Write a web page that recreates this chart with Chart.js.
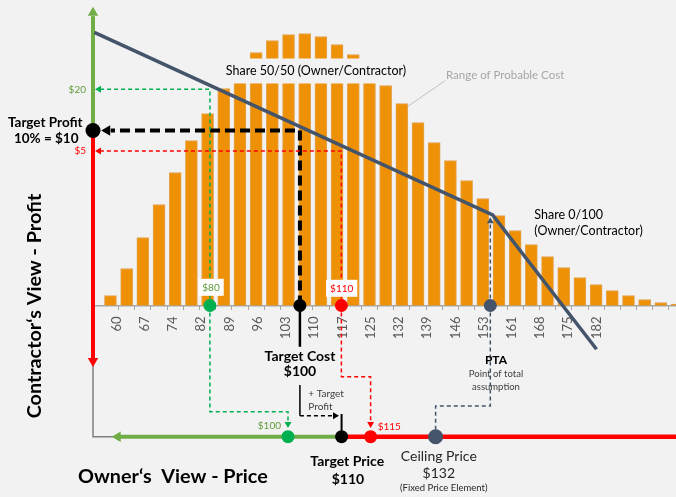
<!DOCTYPE html>
<html>
<head>
<meta charset="utf-8">
<script src="https://cdn.jsdelivr.net/npm/chart.js@4.4.0/dist/chart.umd.min.js"></script>
<style>
  html, body { margin: 0; padding: 0; background: #F2F2F2; }
  canvas { display: block; background: #F2F2F2; }
</style>
</head>
<body>
<canvas id="costChart" width="676" height="497"></canvas>
<script>
// Histogram "Range of Probable Cost" (bin centres on the cost axis)
const binStart = 58.44;
const binWidth = 4.115;
const binCounts = [10, 37, 68, 101, 133, 165, 192, 217, 237, 253, 265, 271, 272, 269, 261, 251, 236, 220,
  202, 183, 163, 145, 125, 107, 90, 75, 61, 49, 38, 28, 21, 15, 10, 6, 3, 1.5];

// Cost axis tick labels
const tickLabels = ['60', '67', '74', '82', '89', '96', '103', '110', '117', '125', '132', '139', '146', '153', '161', '168', '175', '182'];
const tickFirst = 60;
const tickLast = 182;

// Axis levels on the profit scale
const costAxisLevel = -32.56;
const priceAxisLevel = -64.45;
const leftAxis = 54;

// Share line (profit vs cost)
const shareLine = [{ x: 54.33, y: 33.87 }, { x: 155.58, y: -10.55 }, { x: 182.0, y: -43.2 }];

// Key points on the cost axis: $80, target cost, $110, PTA
const costPoints = [83.72, 106.6, 117.14, 155.0];
// Key points on the price axis: $100, target price, $115, ceiling price
const pricePoints = [103.57, 117.19, 124.57, 141.09];
// Profit levels read on the left axis
const profitLevels = { green: 20, target: 10, red: 5 };

const GREEN = '#70AD47';
const MARK_GREEN = '#00B050';
const RED = '#FF0000';
const SLATE = '#44546A';
const FONT = 'Lato, "Open Sans", sans-serif';

function path(points, color, width, dash, order) {
  return {
    type: 'line',
    data: points,
    xAxisID: 'x',
    yAxisID: 'yProfit',
    borderColor: color,
    borderWidth: width,
    borderDash: dash || [],
    borderCapStyle: 'butt',
    pointRadius: 0,
    fill: false,
    tension: 0,
    clip: false,
    order: order || 5,
  };
}

function dots(points, colors, radius, yAxisID) {
  return {
    type: 'scatter',
    data: points,
    xAxisID: 'x',
    yAxisID: yAxisID,
    pointRadius: radius,
    pointBackgroundColor: colors,
    pointBorderWidth: 0,
    clip: false,
    order: 1,
  };
}

// Arrow heads: position, rotation (deg, 0 = up), size, colour
const arrowTips = [
  { x: leftAxis, y: 38.63 }, { x: leftAxis, y: -46.05 }, { x: 60.28, y: priceAxisLevel },
  { x: 55.53, y: profitLevels.green }, { x: 55.53, y: profitLevels.red }, { x: 57.61, y: profitLevels.target },
  { x: pricePoints[0], y: -61.37 }, { x: pricePoints[2], y: -61.37 }, { x: 115.52, y: -59.35 },
  { x: costPoints[3], y: -12.06 },
];
const arrowRotation = [0, 180, 270, 270, 270, 270, 180, 180, 90, 0];
const arrowSize = [6, 6, 6, 4, 4, 6, 4, 4, 4, 4];
const arrowColor = [GREEN, RED, GREEN, MARK_GREEN, RED, '#000', MARK_GREEN, RED, '#000', SLATE];

const datasets = [
  dots(costPoints.map((x) => ({ x, y: 0 })), [MARK_GREEN, '#000', RED, SLATE], 6.5, 'yBar'),
  dots(pricePoints.map((x) => ({ x, y: priceAxisLevel })), [MARK_GREEN, '#000', RED, SLATE], [6.5, 6.5, 6.5, 7.5], 'yProfit'),
  dots([{ x: leftAxis, y: profitLevels.target }], ['#000'], 7.5, 'yProfit'),
  {
    type: 'scatter',
    data: arrowTips,
    xAxisID: 'x',
    yAxisID: 'yProfit',
    pointStyle: 'triangle',
    pointRadius: arrowSize,
    rotation: arrowRotation,
    pointBackgroundColor: arrowColor,
    pointBorderWidth: 0,
    clip: false,
    order: 2,
  },
  // left axes and price axis
  path([{ x: leftAxis, y: profitLevels.target }, { x: leftAxis, y: 37.8 }], GREEN, 4),
  path([{ x: leftAxis, y: profitLevels.target }, { x: leftAxis, y: -45.3 }], RED, 4),
  path([{ x: leftAxis, y: -46 }, { x: leftAxis, y: priceAxisLevel }, { x: 60, y: priceAxisLevel }], '#7F7F7F', 1.5),
  path([{ x: 60.28, y: priceAxisLevel }, { x: pricePoints[1], y: priceAxisLevel }], GREEN, 4),
  path([{ x: pricePoints[1], y: priceAxisLevel }, { x: 202.2, y: priceAxisLevel }], RED, 4.5),
  // share line
  path(shareLine, SLATE, 3.5, null, 3),
  // callout for the histogram
  path([{ x: 133.89, y: 15.78 }, { x: 143.5, y: 22.1 }], '#BFBFBF', 1),
  // green $80 projections
  path([{ x: costPoints[0], y: costAxisLevel }, { x: costPoints[0], y: profitLevels.green }, { x: 56, y: profitLevels.green }], MARK_GREEN, 1.5, [4, 3], 4),
  path([{ x: costPoints[0], y: costAxisLevel }, { x: costPoints[0], y: -58.37 }, { x: pricePoints[0], y: -58.37 }, { x: pricePoints[0], y: -61 }], MARK_GREEN, 1.5, [4, 3], 4),
  // red $110 projections
  path([{ x: costPoints[2], y: costAxisLevel }, { x: costPoints[2], y: profitLevels.red }, { x: 56, y: profitLevels.red }], RED, 1.5, [4, 3], 4),
  path([{ x: costPoints[2], y: costAxisLevel }, { x: costPoints[2], y: -49.87 }, { x: pricePoints[2], y: -49.87 }, { x: pricePoints[2], y: -61 }], RED, 1.5, [4, 3], 4),
  // target cost -> target profit
  path([{ x: costPoints[1], y: costAxisLevel }, { x: costPoints[1], y: profitLevels.target }, { x: 58.5, y: profitLevels.target }], '#000', 4, [10, 5], 4),
  path([{ x: costPoints[1], y: costAxisLevel }, { x: costPoints[1], y: -42.57 }], '#000', 2.5, null, 4),
  // + target profit
  path([{ x: costPoints[1], y: -51.88 }, { x: costPoints[1], y: -59.35 }], '#000', 1.5, null, 4),
  path([{ x: costPoints[1], y: -59.35 }, { x: 115, y: -59.35 }], '#000', 1.5, [4, 3], 4),
  path([{ x: pricePoints[1], y: -58.94 }, { x: pricePoints[1], y: priceAxisLevel }], '#000', 2, null, 4),
  // PTA
  path([{ x: costPoints[3], y: costAxisLevel }, { x: costPoints[3], y: -12.6 }], SLATE, 1.5, [4, 3], 4),
  path([{ x: costPoints[3], y: costAxisLevel }, { x: costPoints[3], y: -56.99 }, { x: pricePoints[3], y: -56.99 }, { x: pricePoints[3], y: priceAxisLevel }], SLATE, 1.5, [4, 3], 4),
  {
    type: 'bar',
    label: 'Range of Probable Cost',
    data: binCounts.map((v, i) => ({ x: binStart + i * binWidth, y: v })),
    xAxisID: 'x',
    yAxisID: 'yBar',
    backgroundColor: '#EF9106',
    borderColor: '#E2A552',
    borderWidth: 1,
    barThickness: 12,
    order: 10,
  },
];

// Text annotations, anchored on the cost / profit scales
const notes = [
  { text: 'Share 50/50 (Owner/Contractor)', x: 110.69, y: 24.46, size: 12.5, box: '#F2F2F2', boxH: 25 },
  { text: 'Range of Probable Cost', x: 143.73, y: 23.49, size: 11.5, color: '#A6A6A6', align: 'left' },
  { text: 'Share 0/100', x: 166.18, y: -10.55, size: 12.5, align: 'left' },
  { text: '(Owner/Contractor)', x: 166.18, y: -14.37, size: 12.5, align: 'left' },
  { text: '$20', x: 52.22, y: 20, size: 10, color: '#5E9C3A', align: 'right' },
  { text: '$5', x: 52.22, y: 5, size: 10, color: RED, align: 'right' },
  { text: 'Target Profit', x: 41.87, y: 11.89, size: 13.5, bold: true },
  { text: '10% = $10', x: 42.1, y: 8.1, size: 13.5, bold: true },
  { text: '$80', x: 84.0, y: -28.13, size: 10, color: '#5E9C3A', box: '#FFFFFF', boxH: 17 },
  { text: '$110', x: 117.22, y: -28.37, size: 10, color: RED, box: '#FFFFFF', boxH: 17 },
  { text: 'Target Cost', x: 106.62, y: -44.83, size: 14, bold: true },
  { text: '$100', x: 106.62, y: -48.65, size: 14, bold: true },
  { text: '+ Target', x: 108.73, y: -54.07, size: 10, color: '#404040', align: 'left' },
  { text: 'Profit', x: 108.73, y: -57.16, size: 10, color: '#404040', align: 'left' },
  { text: 'PTA', x: 156.44, y: -45.81, size: 12, bold: true },
  { text: 'Point of total', x: 156.44, y: -49.28, size: 9.5, color: '#404040' },
  { text: 'assumption', x: 156.44, y: -52.44, size: 9.5, color: '#404040' },
  { text: '$100', x: 101.79, y: -61.85, size: 10, color: '#5E9C3A', align: 'right' },
  { text: '$115', x: 126.37, y: -62.02, size: 10, color: RED, align: 'left' },
  { text: 'Target Price', x: 118.62, y: -70.53, size: 14, bold: true },
  { text: '$110', x: 118.82, y: -74.81, size: 14, bold: true },
  { text: 'Ceiling Price', x: 141.9, y: -69.32, size: 14, color: '#262626' },
  { text: '$132', x: 141.9, y: -73.35, size: 14, color: '#262626' },
  { text: '(Fixed Price Element)', x: 143.17, y: -77.0, size: 9.5, color: '#262626' },
  { text: 'Owner\u2018s  View - Price', x: 50.19, y: -74.25, size: 19.8, bold: true, align: 'left' },
  { text: 'Contractor\u2018s View - Profit', x: 39.26, y: -32.68, size: 19.8, bold: true, rotate: -90 },
];

const annotationsPlugin = {
  id: 'annotations',
  afterDatasetsDraw(chart) {
    const { ctx, scales } = chart;
    const sx = scales.x;
    const sy = scales.yProfit;
    notes.forEach((n) => {
      const px = sx.getPixelForValue(n.x);
      const py = sy.getPixelForValue(n.y);
      ctx.save();
      ctx.translate(px, py);
      if (n.rotate) ctx.rotate((n.rotate * Math.PI) / 180);
      ctx.font = `${n.bold ? 'bold ' : ''}${n.size}px ${FONT}`;
      ctx.textAlign = n.align || 'center';
      ctx.textBaseline = 'middle';
      if (n.box) {
        const w = ctx.measureText(n.text).width + 8;
        ctx.fillStyle = n.box;
        ctx.fillRect(-w / 2, -n.boxH / 2, w, n.boxH);
      }
      ctx.fillStyle = n.color || '#000';
      ctx.fillText(n.text, 0, 0);
      ctx.restore();
    });
  },
};

// positioned cost axes take no room in the layout
const flatAxis = (scale) => {
  scale.height = 0;
  scale.paddingLeft = 0;
  scale.paddingRight = 0;
  scale.paddingTop = 0;
  scale.paddingBottom = 0;
};

new Chart(document.getElementById('costChart'), {
  type: 'bar',
  data: { datasets },
  options: {
    responsive: false,
    animation: false,
    devicePixelRatio: 1,
    layout: { padding: { left: 93, right: 0, top: 0, bottom: 0 }, autoPadding: false },
    plugins: { legend: { display: false }, tooltip: { enabled: false } },
    scales: {
      x: {
        type: 'linear',
        min: 54,
        max: 202.2,
        offset: false,
        position: { yBar: 0 },
        afterFit: flatAxis,
        afterBuildTicks: (scale) => {
          const step = (tickLast - tickFirst) / (tickLabels.length - 1);
          scale.ticks = tickLabels.map((l, i) => ({ value: tickFirst + i * step }));
        },
        ticks: {
          autoSkip: false,
          minRotation: 90,
          maxRotation: 90,
          padding: 11,
          color: '#595959',
          font: { family: FONT, size: 13 },
          callback: (value, index) => tickLabels[index],
        },
        grid: { display: false, drawTicks: false, offset: false },
        border: { display: true, color: '#A6A6A6', width: 1.5 },
      },
      xBins: {
        type: 'linear',
        axis: 'x',
        min: 54,
        max: 202.2,
        offset: false,
        position: { yBar: 0 },
        afterFit: flatAxis,
        afterBuildTicks: (scale) => {
          scale.ticks = binCounts.map((v, i) => ({ value: binStart + (i + 0.5) * binWidth }));
        },
        ticks: { display: false },
        grid: { display: true, offset: false, drawOnChartArea: false, drawTicks: true, tickLength: 4, color: '#A6A6A6' },
        border: { display: false },
      },
      yBar: { type: 'linear', axis: 'y', display: false, min: -191.5, max: 305.5 },
      yProfit: { type: 'linear', axis: 'y', display: false, min: -79.11, max: 41.72 },
    },
  },
  plugins: [annotationsPlugin],
});
</script>
</body>
</html>
